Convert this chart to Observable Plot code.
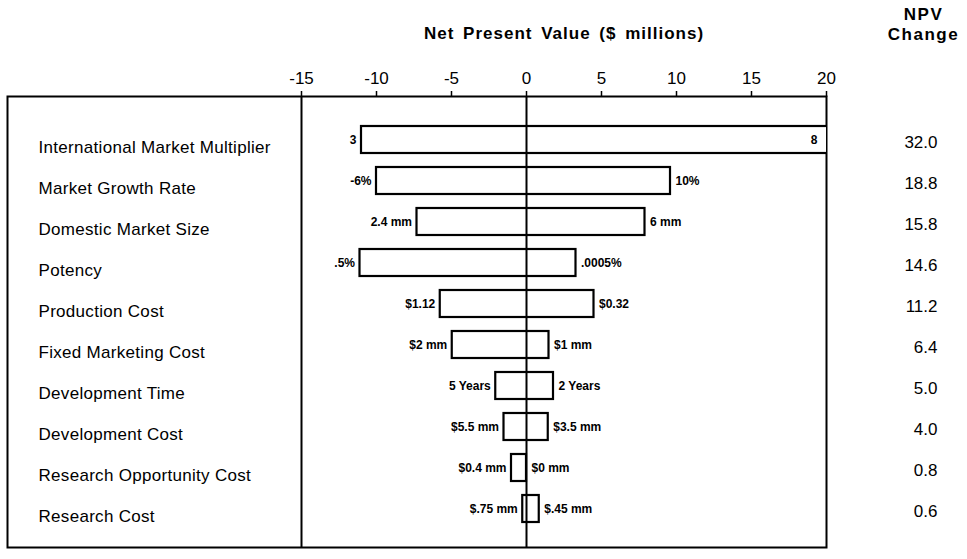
<!DOCTYPE html>
<html><head><meta charset="utf-8">
<script src="https://cdn.jsdelivr.net/npm/d3@7"></script>
<script src="https://cdn.jsdelivr.net/npm/@observablehq/plot@0.6"></script>
<style>body{margin:0;background:#fff}</style>
</head><body><div id="chart"></div>
<script>
const factors = ["International Market Multiplier", "Market Growth Rate", "Domestic Market Size", "Potency", "Production Cost", "Fixed Marketing Cost", "Development Time", "Development Cost", "Research Opportunity Cost", "Research Cost"];
const lowNPV = [-11.0, -10.0, -7.3, -11.1, -5.75, -4.95, -2.05, -1.5, -1.0, -0.25];
const highNPV = [21.0, 9.6, 7.9, 3.3, 4.5, 1.5, 1.8, 1.45, 0, 0.85];
const lowLabels = ["3", "-6%", "2.4 mm", ".5%", "$1.12", "$2 mm", "5 Years", "$5.5 mm", "$0.4 mm", "$.75 mm"];
const highLabels = ["8", "10%", "6 mm", ".0005%", "$0.32", "$1 mm", "2 Years", "$3.5 mm", "$0 mm", "$.45 mm"];
const npvChange = ["32.0", "18.8", "15.8", "14.6", "11.2", "6.4", "5.0", "4.0", "0.8", "0.6"];
const xTicks = [-15, -10, -5, 0, 5, 10, 15, 20];
const xDomain = [-15, 20];
const title = "Net Present Value ($ millions)";
const colHeader = "NPV\nChange";

const rows = factors.map((f, i) => ({factor: f, low: lowNPV[i], high: highNPV[i], lowLabel: lowLabels[i], highLabel: highLabels[i], change: npvChange[i]}));
const inside = rows.filter(d => d.high > xDomain[1]);
const outside = rows.filter(d => d.high <= xDomain[1]);

const chart = Plot.plot({
  width: 967,
  height: 559,
  marginLeft: 7,
  marginRight: 141,
  marginTop: 96,
  marginBottom: 12,
  style: {fontFamily: "'Liberation Sans', Arial, Helvetica, sans-serif", background: "white", color: "black"},
  x: {domain: xDomain, range: [301, 826]},
  y: {domain: factors, range: [125, 523], paddingInner: 0.333, paddingOuter: 0, axis: null},
  marks: [
    Plot.frame({stroke: "black", strokeWidth: 2}),
    Plot.ruleX([xDomain[0]], {stroke: "black", strokeWidth: 2}),
    Plot.barX(rows, {x1: "low", x2: "high", y: "factor", fill: "white", stroke: "black", strokeWidth: 2.2, clip: true}),
    Plot.ruleX([0], {stroke: "black", strokeWidth: 2}),
    Plot.axisX({anchor: "top", ticks: xTicks, tickSize: 6, tickPadding: 7, tickFormat: d => String(d), fontSize: 17, strokeWidth: 1.5, label: null}),
    Plot.text(rows, {x: "low", y: "factor", text: "lowLabel", textAnchor: "end", dx: -5, fontWeight: "bold", fontSize: 12}),
    Plot.text(outside, {x: "high", y: "factor", text: "highLabel", textAnchor: "start", dx: 5, fontWeight: "bold", fontSize: 12}),
    Plot.text(inside, {x: d => Math.min(d.high, xDomain[1]), y: "factor", text: "highLabel", textAnchor: "end", dx: -9, fontWeight: "bold", fontSize: 12}),
    Plot.text(rows, {y: "factor", text: "factor", frameAnchor: "left", textAnchor: "start", dx: 31, dy: 8, fontSize: 17}),
    Plot.text(rows, {y: "factor", text: "change", frameAnchor: "right", textAnchor: "end", dx: 111, dy: 3, fontSize: 17}),
    Plot.text([title], {x: (xDomain[0] + xDomain[1]) / 2, frameAnchor: "top", dy: -70, fontWeight: "bold", fontSize: 17}),
    Plot.text([colHeader], {frameAnchor: "top-right", dx: 97, dy: -91, lineAnchor: "top", textAnchor: "middle", fontWeight: "bold", fontSize: 17, lineHeight: 1.18})
  ]
});
document.getElementById("chart").appendChild(chart);
d3.select(chart).selectAll("text")
  .filter(function() { return this.textContent === title; })
  .attr("letter-spacing", "1").attr("word-spacing", "3");
d3.select(chart).selectAll("text")
  .filter(function() { return this.textContent === "NPVChange"; })
  .attr("letter-spacing", "1.5");
d3.select(chart).selectAll("text")
  .filter(function() { return factors.includes(this.textContent); })
  .attr("letter-spacing", "0.3");
</script>
</body></html>
